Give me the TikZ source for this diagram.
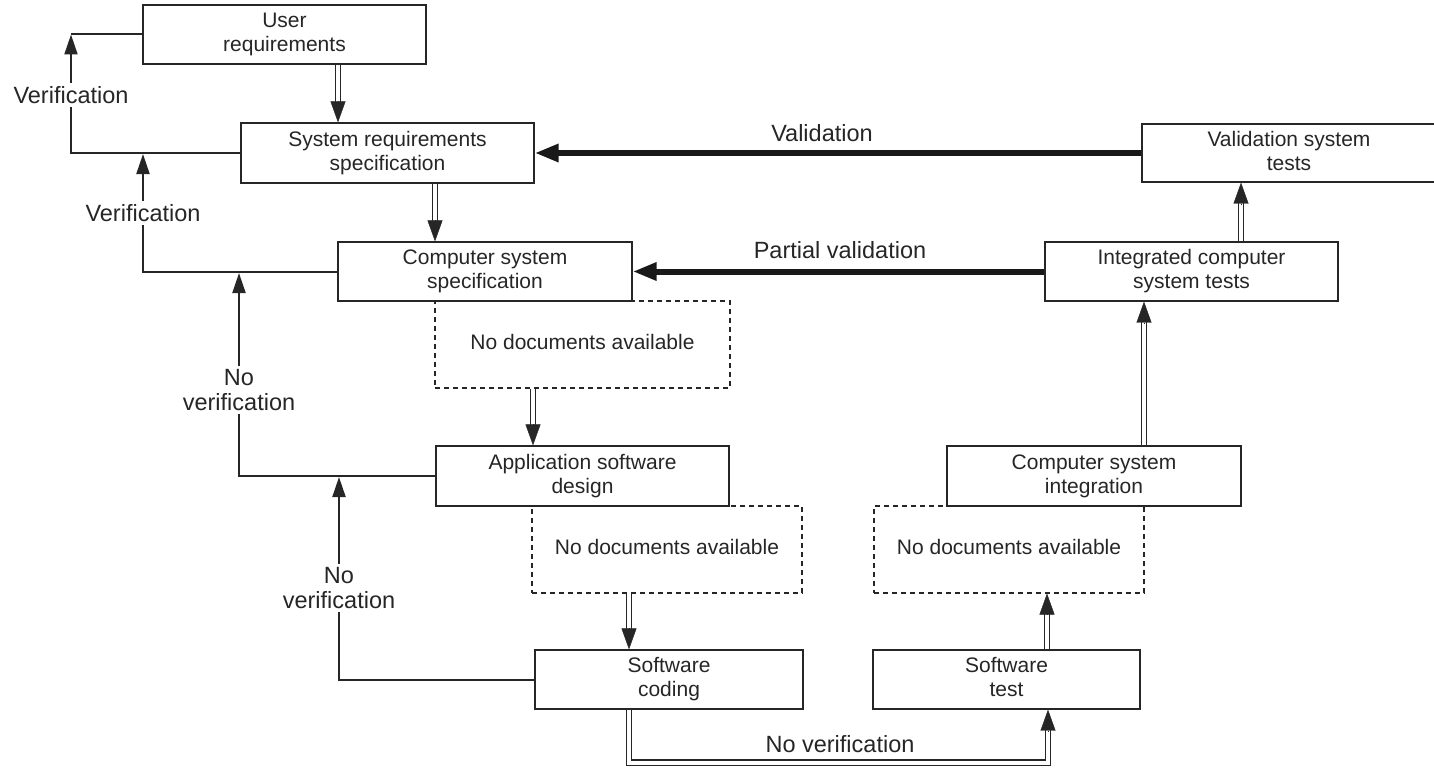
\documentclass[tikz,border=0pt]{standalone}
\usepackage{fontspec}
\setmainfont{Liberation Sans}
\usetikzlibrary{arrows.meta,calc}
\begin{document}
\begin{tikzpicture}[x=1pt,y=-1pt,
 box/.style={draw=black!85, line width=1.3pt, inner sep=0pt, align=center, font=\fontsize{21}{24}\selectfont, text=black!85, execute at end node={\rule[-4.4pt]{0pt}{4.4pt}}},
 dbox/.style={box, dash pattern=on 5pt off 4pt, line width=1.1pt},
 lbl/.style={font=\fontsize{23.5}{25}\selectfont, align=center, inner sep=3pt, text=black!85},
 thinline/.style={line width=2pt, draw=black!85},
 thinarrow/.style={thinline, -{Triangle[length=20pt,width=13pt]}},
 thickarrow/.style={line width=6pt, draw=black!90, -{Triangle[length=24pt,width=17pt]}},
 dbl/.style={draw=black!85, line width=1.3pt, double=white, double distance=4pt, shorten >=18pt, line join=miter},
 dblhead/.style={line width=0.4pt, draw=black!85, fill=black!85, -{Triangle[length=21pt,width=15pt]}},
]
\useasboundingbox (0,0) rectangle (1434,768);

% dashed boxes first
\node[dbox, minimum width=295pt, minimum height=87pt] (dash1) at (582.5,344.5) {No documents available};
\node[dbox, minimum width=270pt, minimum height=87pt] (dash2) at (667,549.5) {No documents available};
\node[dbox, minimum width=270pt, minimum height=87pt] (dash3) at (1009,549.5) {No documents available};

% solid boxes
\node[box, fill=white, minimum width=283pt, minimum height=59pt] (userreq) at (284.5,34.5) {User\\requirements};
\node[box, fill=white, minimum width=293pt, minimum height=60pt] (sysreq) at (387.5,153) {System requirements\\specification};
\node[box, fill=white, minimum width=294pt, minimum height=59pt] (compspec) at (485,271.5) {Computer system\\specification};
\node[box, fill=white, minimum width=293pt, minimum height=60pt] (appdes) at (582.5,476) {Application software\\design};
\node[box, fill=white, minimum width=268pt, minimum height=59pt] (coding) at (669,679.5) {Software\\coding};
\node[box, fill=white, minimum width=267pt, minimum height=59pt] (test) at (1006.5,679.5) {Software\\test};
\node[box, fill=white, minimum width=294pt, minimum height=60pt] (integ) at (1094,476) {Computer system\\integration};
\node[box, fill=white, minimum width=293pt, minimum height=59pt] (itests) at (1191.5,271.5) {Integrated computer\\system tests};
\node[box, fill=white, minimum width=294pt, minimum height=58pt] (valtests) at (1289,153) {Validation system\\tests};

% left verification connectors
\coordinate (k1) at (71,34.5);
\draw[thinline] (userreq.west) -- (k1);
\draw[thinarrow] (sysreq.west) -- (sysreq.west -| k1) -- (k1);
\node[lbl, fill=white] (l1) at (71,95) {Verification};

\coordinate (k2) at (143,154);
\draw[thinarrow] (compspec.west) -- (compspec.west -| k2) -- (k2);
\node[lbl, fill=white] (l2) at (143,213) {Verification};

\coordinate (k3) at (239,273);
\draw[thinarrow] (appdes.west) -- (appdes.west -| k3) -- (k3);
\node[lbl, fill=white] (l3) at (239,390) {No\\verification};

\coordinate (k4) at (339,477);
\draw[thinarrow] (coding.west) -- (coding.west -| k4) -- (k4);
\node[lbl, fill=white] (l4) at (339,588) {No\\verification};

% thick validation arrows
\draw[thickarrow] (valtests.west) -- (sysreq.east);
\node[lbl] (l5) at (822,133) {Validation};
\draw[thickarrow] (itests.west) -- (compspec.east);
\node[lbl] (l6) at (840,250) {Partial validation};

% double arrows (down)
\coordinate (a1) at ($(userreq.south)+(53.5,0)$);
\draw[dbl] (a1) -- (a1 |- sysreq.north);
\draw[dblhead] ($(a1 |- sysreq.north)+(0,-21)$) -- (a1 |- sysreq.north);

\coordinate (a2) at ($(sysreq.south)+(47.5,0)$);
\draw[dbl] (a2) -- (a2 |- compspec.north);
\draw[dblhead] ($(a2 |- compspec.north)+(0,-21)$) -- (a2 |- compspec.north);

\coordinate (a3) at ($(dash1.south)+(-49.5,0)$);
\draw[dbl] (a3) -- (a3 |- appdes.north);
\draw[dblhead] ($(a3 |- appdes.north)+(0,-21)$) -- (a3 |- appdes.north);

\coordinate (a4) at ($(dash2.south)+(-38,0)$);
\draw[dbl] (a4) -- (a4 |- coding.north);
\draw[dblhead] ($(a4 |- coding.north)+(0,-21)$) -- (a4 |- coding.north);

% coding -> test (bent)
\coordinate (a5) at ($(coding.south)+(-40,0)$);
\coordinate (b5) at ($(test.south)+(41.5,0)$);
\draw[dbl] (a5) -- ($(a5)+(0,53)$) -| (b5);
\draw[dblhead] ($(b5)+(0,21)$) -- (b5);
\node[lbl] (l7) at (840,744) {No verification};

% double arrows (up)
\coordinate (a6) at ($(test.north)+(40.5,0)$);
\draw[dbl] (a6) -- (a6 |- dash3.south);
\draw[dblhead] ($(a6 |- dash3.south)+(0,21)$) -- (a6 |- dash3.south);

\coordinate (a7) at ($(integ.north)+(50,0)$);
\draw[dbl] (a7) -- (a7 |- itests.south);
\draw[dblhead] ($(a7 |- itests.south)+(0,21)$) -- (a7 |- itests.south);

\coordinate (a8) at ($(itests.north)+(49.5,0)$);
\draw[dbl] (a8) -- (a8 |- valtests.south);
\draw[dblhead] ($(a8 |- valtests.south)+(0,21)$) -- (a8 |- valtests.south);
\end{tikzpicture}
\end{document}
